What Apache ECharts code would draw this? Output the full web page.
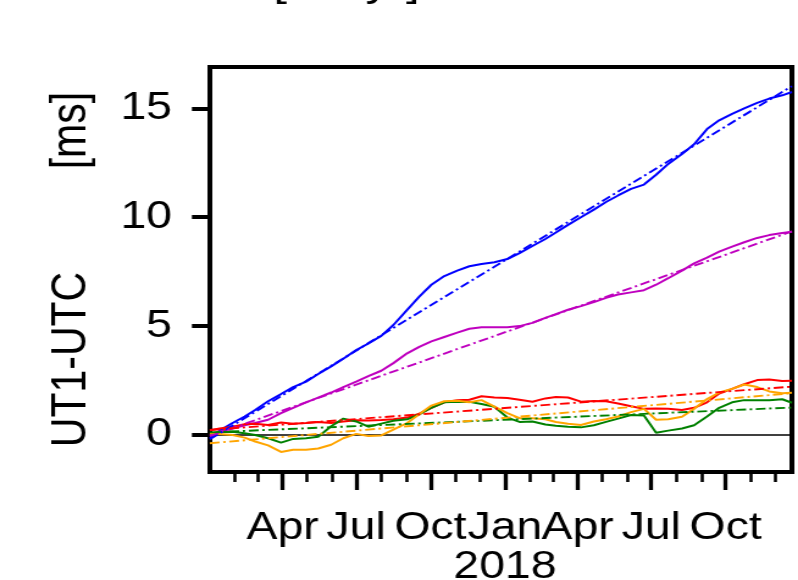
<!DOCTYPE html>
<html>
<head>
<meta charset="utf-8">
<script src="https://cdn.jsdelivr.net/npm/echarts@6/dist/echarts.min.js"></script>
<style>
  html, body { margin: 0; padding: 0; background: #fff; overflow: hidden; }
  /* the figure is drawn narrower and widened to the page, giving the broad lettering */
  #chart { width: 654px; height: 580px; transform: scaleX(1.2202); transform-origin: 0 0; }
</style>
</head>
<body>
<div id="chart"></div>
<script>
// Sample dates (semi-monthly) for the UT1-UTC difference series
const dates = [
  '2017-01-01','2017-01-13','2017-01-29','2017-02-13','2017-02-26','2017-03-14','2017-03-30','2017-04-14',
  '2017-04-30','2017-05-15','2017-05-31','2017-06-15','2017-07-01','2017-07-16','2017-08-01','2017-08-16',
  '2017-09-02','2017-09-17','2017-10-02','2017-10-18','2017-11-03','2017-11-18','2017-12-03','2017-12-19',
  '2018-01-04','2018-01-19','2018-02-04','2018-02-20','2018-03-05','2018-03-20','2018-04-05','2018-04-21',
  '2018-05-06','2018-05-21','2018-06-06','2018-06-22','2018-07-07','2018-07-22','2018-08-08','2018-08-23',
  '2018-09-08','2018-09-23','2018-10-09','2018-10-24','2018-11-09','2018-11-24','2018-12-10','2018-12-22'
];

// UT1-UTC differences [ms]
const blueSeries = [
  -0.15, 0.2, 0.55, 0.85, 1.15, 1.55, 1.88, 2.2, 2.45, 2.8, 3.15, 3.5, 3.9, 4.2, 4.55, 5.05,
  5.75, 6.35, 6.9, 7.3, 7.55, 7.75, 7.85, 7.93,
  8.08, 8.35, 8.68, 9.0, 9.3, 9.65, 10.0, 10.35, 10.7, 11.0, 11.3, 11.5, 11.95, 12.45, 12.9, 13.35,
  14.05, 14.45, 14.75, 15.0, 15.25, 15.45, 15.6, 15.75
];
const magentaSeries = [
  -0.02, 0.15, 0.3, 0.45, 0.55, 0.7, 1.0, 1.25, 1.5, 1.72, 1.95, 2.2, 2.45, 2.7, 2.95, 3.3,
  3.75, 4.05, 4.3, 4.5, 4.7, 4.88, 4.95, 4.95,
  4.95, 5.0, 5.15, 5.38, 5.55, 5.75, 5.92, 6.1, 6.3, 6.45, 6.55, 6.65, 6.9, 7.2, 7.55, 7.88,
  8.15, 8.42, 8.65, 8.85, 9.05, 9.18, 9.28, 9.33
];
const redSeries = [
  0.22, 0.3, 0.38, 0.5, 0.52, 0.46, 0.57, 0.52, 0.55, 0.6, 0.55, 0.62, 0.68, 0.66, 0.69, 0.72,
  0.8, 0.98, 1.25, 1.5, 1.6, 1.62, 1.78, 1.72,
  1.7, 1.62, 1.53, 1.68, 1.74, 1.72, 1.53, 1.56, 1.55, 1.45, 1.32, 1.2, 1.22, 1.2, 1.15, 1.25,
  1.5, 1.9, 2.12, 2.33, 2.52, 2.55, 2.48, 2.49
];
const greenSeries = [
  0.08, 0.12, 0.15, 0.08, 0.0, -0.15, -0.35, -0.18, -0.15, -0.08, 0.4, 0.75, 0.62, 0.38, 0.52, 0.65,
  0.72, 0.95, 1.25, 1.5, 1.53, 1.52, 1.42, 1.3,
  0.8, 0.6, 0.62, 0.48, 0.42, 0.38, 0.35, 0.45, 0.6, 0.75, 0.92, 0.9, 0.1, 0.2, 0.3, 0.45,
  0.85, 1.25, 1.5, 1.6, 1.6, 1.6, 1.64, 1.48
];
const orangeSeries = [
  0.08, 0.05, 0.0, -0.12, -0.3, -0.48, -0.78, -0.68, -0.68, -0.62, -0.45, -0.15, 0.05, -0.05, -0.02, 0.25,
  0.55, 0.95, 1.35, 1.55, 1.57, 1.5, 1.6, 1.3,
  1.0, 0.77, 0.77, 0.72, 0.6, 0.52, 0.46, 0.62, 0.72, 0.85, 1.05, 1.2, 0.7, 0.72, 0.84, 1.2,
  1.65, 1.95, 2.12, 2.32, 2.2, 2.0, 1.92, 1.94
];

// Linear trend of each series, value at the first and last date of the span
const fitDates = ['2017-01-01', '2018-12-22'];
const blueFit = [-0.2, 16.02];
const magentaFit = [-0.05, 9.35];
const redFit = [0.23, 2.22];
const greenFit = [0.12, 1.26];
const orangeFit = [-0.38, 1.92];

// Axis ticks and labels
const xSpan = ['2017-01-01', '2018-12-22'];
const quarterTicks = ['2017-04-01', '2017-07-01', '2017-10-01', '2018-01-01', '2018-04-01', '2018-07-01', '2018-10-01'];
const quarterLabels = ['Apr', 'Jul', 'Oct', 'Jan\n2018', 'Apr', 'Jul', 'Oct'];
const monthTicks = [
  '2017-02-01', '2017-03-01', '2017-05-01', '2017-06-01', '2017-08-01', '2017-09-01',
  '2017-11-01', '2017-12-01', '2018-02-01', '2018-03-01', '2018-05-01', '2018-06-01',
  '2018-08-01', '2018-09-01', '2018-11-01', '2018-12-01'
];
const yTicks = [0, 5, 10, 15];
const ySpan = [-1.7, 16.9];

const FONT = '"Liberation Sans", Arial, sans-serif';
// dates are placed on a numeric axis as UTC milliseconds
const toTime = s => Date.parse(s + 'T00:00:00Z');

const quarterTimes = quarterTicks.map(toTime);

function solid(values, color) {
  return {
    type: 'line',
    data: dates.map((d, i) => [toTime(d), values[i]]),
    showSymbol: false,
    symbol: 'none',
    lineStyle: { color: color, width: 2 },
    z: 3
  };
}
function trend(ends, color) {
  return {
    type: 'line',
    data: fitDates.map((d, i) => [toTime(d), ends[i]]),
    showSymbol: false,
    symbol: 'none',
    lineStyle: { color: color, width: 1.9, type: [8, 3, 2, 3] },
    z: 4
  };
}

const chart = echarts.init(document.getElementById('chart'), null, { renderer: 'canvas' });

chart.setOption({
  animation: false,
  backgroundColor: '#ffffff',
  title: {
    text: '[ms/yr]',
    left: 219,
    top: -40,
    textStyle: { fontFamily: FONT, fontSize: 40, fontWeight: 'normal', color: '#000' }
  },
  grid: {
    left: 172, right: 5, top: 67, bottom: 108,
    outerBoundsMode: 'none',
    containLabel: false,
    show: true,
    borderColor: '#000',
    borderWidth: 4,
    backgroundColor: '#fff'
  },
  xAxis: [
    {
      type: 'value',
      min: toTime(xSpan[0]),
      max: toTime(xSpan[1]),
      position: 'bottom',
      axisLine: { show: false, onZero: false },
      splitLine: { show: false },
      axisTick: {
        show: true, inside: false, length: 18,
        customValues: quarterTimes,
        lineStyle: { color: '#000', width: 3.3 }
      },
      axisLabel: {
        show: true,
        customValues: quarterTimes,
        margin: 37,
        fontFamily: FONT,
        fontSize: 38,
        lineHeight: 39,
        color: '#000',
        formatter: function (val) {
          const i = quarterTimes.indexOf(+val);
          return i >= 0 ? quarterLabels[i] : '';
        }
      }
    },
    {
      type: 'value',
      min: toTime(xSpan[0]),
      max: toTime(xSpan[1]),
      position: 'bottom',
      axisLine: { show: false, onZero: false },
      splitLine: { show: false },
      axisLabel: { show: false },
      axisTick: {
        show: true, inside: false, length: 10,
        customValues: monthTicks.map(toTime),
        lineStyle: { color: '#000', width: 2.6 }
      }
    }
  ],
  yAxis: {
    type: 'value',
    min: ySpan[0],
    max: ySpan[1],
    axisLine: { show: false, onZero: false },
    splitLine: { show: false },
    axisTick: {
      show: true, inside: false, length: 14.7,
      customValues: yTicks,
      lineStyle: { color: '#000', width: 4 }
    },
    axisLabel: {
      customValues: yTicks,
      margin: 31,
      fontFamily: FONT,
      fontSize: 38,
      color: '#000'
    },
    name: 'UT1-UTC         [ms]',
    nameLocation: 'middle',
    nameGap: 93,
    nameTextStyle: { fontFamily: FONT, fontSize: 41, color: '#000' }
  },
  series: [
    Object.assign(solid(blueSeries, '#0000ff'), {
      markLine: {
        silent: true, symbol: 'none', label: { show: false },
        lineStyle: { color: '#000', width: 1.6, type: 'solid' },
        data: [{ yAxis: 0 }],
        z: 1
      }
    }),
    trend(blueFit, '#0000ff'),
    solid(magentaSeries, '#bf00bf'),
    trend(magentaFit, '#bf00bf'),
    solid(redSeries, '#ff0000'),
    trend(redFit, '#ff0000'),
    solid(greenSeries, '#008000'),
    trend(greenFit, '#008000'),
    solid(orangeSeries, '#ffa500'),
    trend(orangeFit, '#ffa500')
  ]
});
</script>
</body>
</html>
